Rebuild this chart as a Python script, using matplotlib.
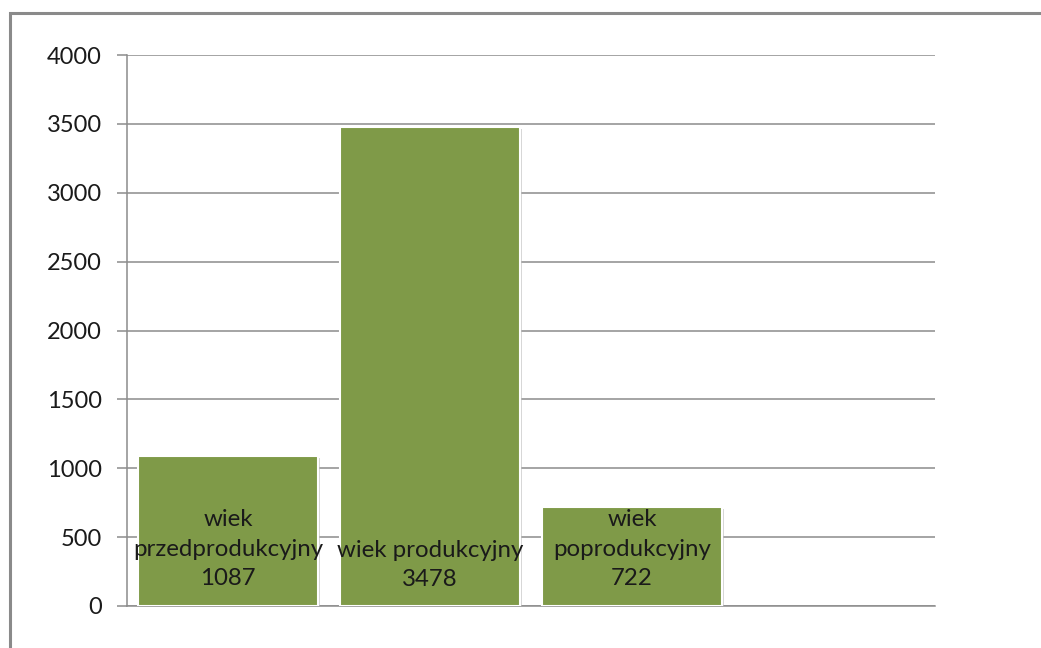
import matplotlib
matplotlib.use("Agg")
import matplotlib.pyplot as plt
from matplotlib.patches import Rectangle
import matplotlib.patheffects as pe

categories = ["wiek\nprzedprodukcyjny", "wiek produkcyjny", "wiek\npoprodukcyjny"]
values = [1087, 3478, 722]
yticks = [0, 500, 1000, 1500, 2000, 2500, 3000, 3500, 4000]
n_slots = 4  # chart reserves one empty category slot at the right

plt.rcParams['font.family'] = ['Lato', 'DejaVu Sans']

W, H = 1041, 648
fig = plt.figure(figsize=(W / 100, H / 100), dpi=100)
fig.patch.set_facecolor("white")

# outer chart border (top and left visible)
fig.patches.append(Rectangle((10 / W, -0.1), 1.2, (H - 13) / H + 0.1,
                             transform=fig.transFigure, fill=False,
                             edgecolor="#8a8a8a", linewidth=2.2))

ax = fig.add_axes([127 / W, (H - 606) / H, (935 - 127) / W, (606 - 55) / H])
ax.set_facecolor("white")

x = list(range(len(values)))
bars = ax.bar(x, values, width=0.89, color="#7F9A48", edgecolor="white",
              linewidth=1.5, zorder=3)
for b in bars:
    b.set_path_effects([pe.SimplePatchShadow(offset=(1.5, -1.5), shadow_rgbFace="#bbbbbb", alpha=0.6),
                        pe.Normal()])

for xi, v, c in zip(x, values, categories):
    ax.annotate(f"{c}\n{v}", xy=(xi, 0), xytext=(0, 57 if "\n" in c else 41),
                textcoords="offset pixels", ha="center", va="center",
                fontsize=17.3, color="#1a1a1a", linespacing=1.48, zorder=4)

ax.set_xlim(-0.5, n_slots - 0.5)
ax.set_ylim(0, 4000)
ax.set_yticks(yticks)
ax.set_yticklabels([str(t) for t in yticks])
ax.set_xticks([])
ax.yaxis.grid(True, color="#8c8c8c", linewidth=1.1, zorder=0)
ax.set_axisbelow(True)
for s in ["top", "right"]:
    ax.spines[s].set_visible(False)
for s in ["left", "bottom"]:
    ax.spines[s].set_color("#8c8c8c")
    ax.spines[s].set_linewidth(1.1)
ax.tick_params(axis="y", length=7.2, width=1.1, color="#8c8c8c", pad=11,
               labelsize=17, labelcolor="#1a1a1a")

fig.savefig("out.png", dpi=100, facecolor="white")
